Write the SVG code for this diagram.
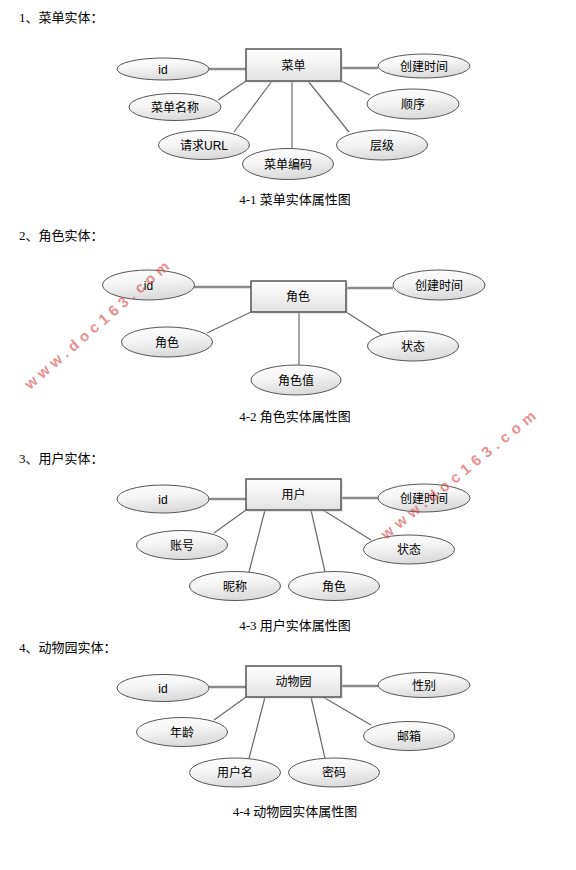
<svg xmlns="http://www.w3.org/2000/svg" width="576" height="870" viewBox="0 0 576 870">
<defs>
<linearGradient id="eg" x1="0" y1="0" x2="0.3" y2="1">
<stop offset="0" stop-color="#ffffff"/>
<stop offset="0.45" stop-color="#f6f6f6"/>
<stop offset="1" stop-color="#dcdcdc"/>
</linearGradient>
<linearGradient id="rg" x1="0" y1="0" x2="0" y2="1">
<stop offset="0" stop-color="#ffffff"/>
<stop offset="1" stop-color="#e2e2e2"/>
</linearGradient>
</defs>
<style>
.t{font-family:"Liberation Serif","Noto Sans CJK SC",serif;font-size:13px;fill:#000}
.c{font-family:"Liberation Serif","Noto Sans CJK SC",serif;font-size:13px;fill:#000;text-anchor:middle}
.lb{font-family:"Liberation Sans","Noto Sans CJK SC",sans-serif;font-size:12px;fill:#000;text-anchor:middle}
.e{fill:url(#eg);stroke:#555;stroke-width:1}
.sh{fill:#d0d0d0;opacity:0.5}
.r{fill:url(#rg);stroke:#555;stroke-width:1.5}
.h{stroke:#8c8c8c;stroke-width:2.5;fill:none}
.d{stroke:#6a6a6a;stroke-width:1.2;fill:none}
.wm{font-family:"Liberation Sans",sans-serif;font-size:15px;font-weight:bold;fill:#d84848;opacity:0.6}
</style>
<rect width="576" height="870" fill="#ffffff"/>

<!-- Titles and captions -->
<text class="t" x="19" y="22">1、菜单实体：</text>
<text class="c" x="295" y="204">4-1 菜单实体属性图</text>
<text class="t" x="19" y="240">2、角色实体：</text>
<text class="c" x="295" y="421">4-2 角色实体属性图</text>
<text class="t" x="19" y="463">3、用户实体：</text>
<text class="c" x="295" y="630">4-3 用户实体属性图</text>
<text class="t" x="19" y="652">4、动物园实体：</text>
<text class="c" x="295" y="816">4-4 动物园实体属性图</text>

<g id="connectors">
<!-- D1 -->
<line class="h" x1="209" y1="69" x2="246" y2="69"/>
<line class="h" x1="341" y1="68" x2="378" y2="68"/>
<line class="d" x1="246" y1="81" x2="218" y2="100"/>
<line class="d" x1="272" y1="81" x2="234" y2="132"/>
<line class="d" x1="292" y1="81" x2="292" y2="148.5"/>
<line class="d" x1="308" y1="81" x2="349" y2="132"/>
<line class="d" x1="341" y1="81" x2="370" y2="95"/>
<!-- D2 -->
<line class="h" x1="194" y1="287" x2="251" y2="287"/>
<line class="h" x1="346" y1="288" x2="393" y2="288"/>
<line class="d" x1="251" y1="312" x2="207" y2="333"/>
<line class="d" x1="299" y1="312" x2="299" y2="365"/>
<line class="d" x1="346" y1="312" x2="382" y2="335"/>
<!-- D3 -->
<line class="h" x1="209" y1="499" x2="246" y2="499"/>
<line class="h" x1="341" y1="498" x2="378" y2="498"/>
<line class="d" x1="246" y1="510" x2="214" y2="533"/>
<line class="d" x1="265" y1="510" x2="249" y2="572"/>
<line class="d" x1="311" y1="510" x2="325" y2="572"/>
<line class="d" x1="323" y1="510" x2="371" y2="540"/>
<!-- D4 -->
<line class="h" x1="209" y1="687" x2="246" y2="687"/>
<line class="h" x1="341" y1="686" x2="378" y2="686"/>
<line class="d" x1="246" y1="697" x2="214" y2="720"/>
<line class="d" x1="265" y1="697" x2="249" y2="758.5"/>
<line class="d" x1="311" y1="697" x2="325" y2="758.5"/>
<line class="d" x1="323" y1="697" x2="371" y2="725"/>
</g>

<!-- Diagram 1 -->
<g id="menu">
<rect class="sh" x="248" y="51" width="95" height="32"/>
<rect class="r" x="246" y="49" width="95" height="32"/>
<text class="lb" x="293.5" y="69.5">菜单</text>
</g>
<g id="menu-id"><ellipse class="e" cx="163" cy="69" rx="46" ry="11"/><text class="lb" x="163" y="73.5">id</text></g>
<g id="menu-ctime"><ellipse class="e" cx="424" cy="66" rx="46" ry="12"/><text class="lb" x="424" y="70.5">创建时间</text></g>
<g id="menu-name"><ellipse class="e" cx="175" cy="107" rx="46" ry="13.5"/><text class="lb" x="175" y="111.5">菜单名称</text></g>
<g id="menu-order"><ellipse class="e" cx="413" cy="104" rx="46" ry="15"/><text class="lb" x="413" y="108.5">顺序</text></g>
<g id="menu-url"><ellipse class="e" cx="204" cy="145" rx="45.5" ry="14.5"/><text class="lb" x="204" y="149.5">请求URL</text></g>
<g id="menu-level"><ellipse class="e" cx="382" cy="145" rx="45.5" ry="15"/><text class="lb" x="382" y="149.5">层级</text></g>
<g id="menu-code"><ellipse class="e" cx="288" cy="164" rx="45.5" ry="15.5"/><text class="lb" x="288" y="168.5">菜单编码</text></g>

<!-- Diagram 2 -->
<g id="role">
<rect class="sh" x="253" y="283" width="95" height="31"/>
<rect class="r" x="251" y="281" width="95" height="31"/>
<text class="lb" x="298" y="301">角色</text>
</g>
<g id="role-id"><ellipse class="e" cx="148.5" cy="285" rx="46" ry="15"/><text class="lb" x="148.5" y="289.5">id</text></g>
<g id="role-ctime"><ellipse class="e" cx="439" cy="285" rx="46" ry="15"/><text class="lb" x="439" y="289.5">创建时间</text></g>
<g id="role-role"><ellipse class="e" cx="167" cy="342" rx="45.5" ry="15"/><text class="lb" x="167" y="346.5">角色</text></g>
<g id="role-state"><ellipse class="e" cx="413" cy="346" rx="45.5" ry="15"/><text class="lb" x="413" y="350.5">状态</text></g>
<g id="role-value"><ellipse class="e" cx="296" cy="380" rx="45" ry="15"/><text class="lb" x="296" y="384.5">角色值</text></g>

<!-- Diagram 3 -->
<g id="user">
<rect class="sh" x="248" y="481" width="95" height="31"/>
<rect class="r" x="246" y="479" width="95" height="31"/>
<text class="lb" x="293.5" y="499">用户</text>
</g>
<g id="user-id"><ellipse class="e" cx="163" cy="499" rx="46" ry="14"/><text class="lb" x="163" y="503.5">id</text></g>
<g id="user-ctime"><ellipse class="e" cx="424" cy="498" rx="46" ry="14"/><text class="lb" x="424" y="502.5">创建时间</text></g>
<g id="user-account"><ellipse class="e" cx="182" cy="545" rx="45.5" ry="14.5"/><text class="lb" x="182" y="549.5">账号</text></g>
<g id="user-state"><ellipse class="e" cx="409" cy="549.5" rx="45.5" ry="14.5"/><text class="lb" x="409" y="554">状态</text></g>
<g id="user-nick"><ellipse class="e" cx="235" cy="586" rx="45.5" ry="14.5"/><text class="lb" x="235" y="590.5">昵称</text></g>
<g id="user-role"><ellipse class="e" cx="334" cy="586" rx="45.5" ry="14.5"/><text class="lb" x="334" y="590.5">角色</text></g>

<!-- Diagram 4 -->
<g id="zoo">
<rect class="sh" x="248" y="668" width="95" height="31"/>
<rect class="r" x="246" y="666" width="95" height="31"/>
<text class="lb" x="293.5" y="686">动物园</text>
</g>
<g id="zoo-id"><ellipse class="e" cx="163" cy="688" rx="46" ry="13.5"/><text class="lb" x="163" y="692.5">id</text></g>
<g id="zoo-sex"><ellipse class="e" cx="424" cy="685" rx="46" ry="12.5"/><text class="lb" x="424" y="689.5">性别</text></g>
<g id="zoo-age"><ellipse class="e" cx="182" cy="732" rx="45.5" ry="14.5"/><text class="lb" x="182" y="736.5">年龄</text></g>
<g id="zoo-mail"><ellipse class="e" cx="409" cy="736" rx="45.5" ry="14.5"/><text class="lb" x="409" y="740.5">邮箱</text></g>
<g id="zoo-username"><ellipse class="e" cx="235" cy="772.5" rx="45.5" ry="14.5"/><text class="lb" x="235" y="777">用户名</text></g>
<g id="zoo-pwd"><ellipse class="e" cx="334" cy="772.5" rx="45.5" ry="14.5"/><text class="lb" x="334" y="777">密码</text></g>

<!-- Watermarks -->
<text class="wm" transform="translate(30,390) rotate(-41)" textLength="186" lengthAdjust="spacing">www.doc163.com</text>
<text class="wm" transform="translate(386,540) rotate(-39)" textLength="194" lengthAdjust="spacing">www.doc163.com</text>
</svg>
